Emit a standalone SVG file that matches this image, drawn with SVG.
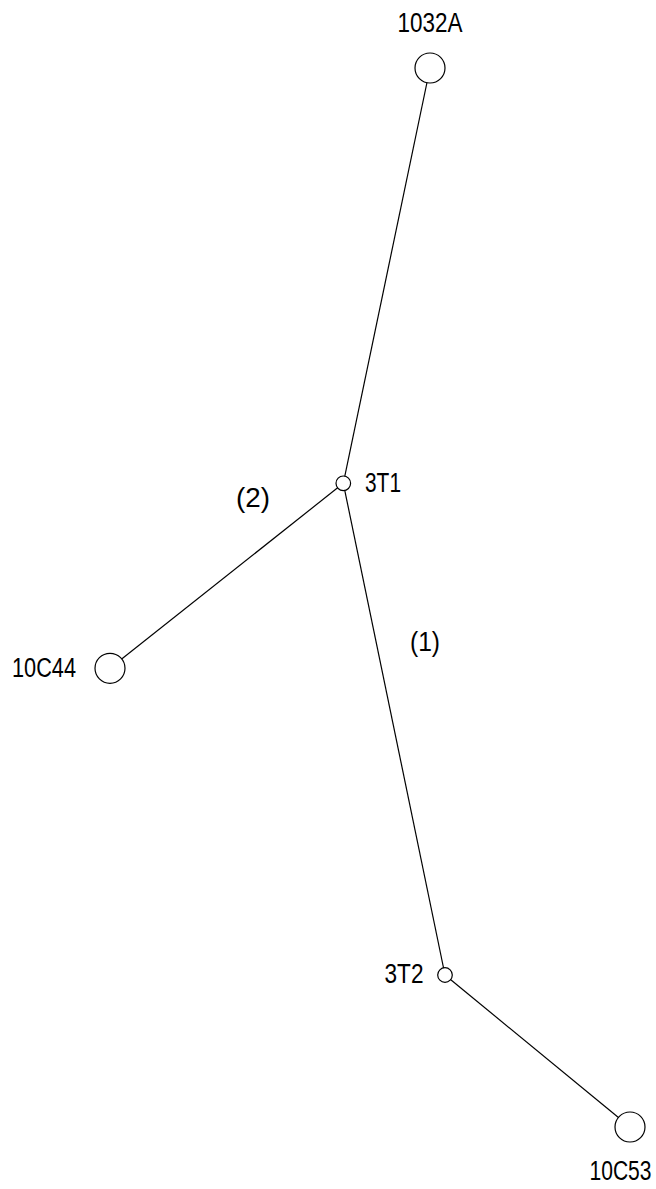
<svg xmlns="http://www.w3.org/2000/svg" width="656" height="1189" viewBox="0 0 656 1189">
<style>
.edge{stroke:#000;stroke-width:1.2;fill:none}
.node{fill:#fff;stroke:#000;stroke-width:1.2}
.lbl{font-family:"Liberation Sans",Arial,sans-serif;font-size:27px;fill:#000}
</style>
<rect width="656" height="1189" fill="#fff"/>
<g id="connectors">
<line class="edge" x1="430" y1="68" x2="343.3" y2="483.3"/>
<line class="edge" x1="343.3" y1="483.3" x2="110" y2="668.3"/>
<line class="edge" x1="343.3" y1="483.3" x2="445" y2="975"/>
<line class="edge" x1="445" y1="975" x2="630" y2="1127"/>
<text class="lbl" x="236" y="507" textLength="34" lengthAdjust="spacingAndGlyphs">(2)</text>
<text class="lbl" x="410" y="651" textLength="30" lengthAdjust="spacingAndGlyphs">(1)</text>
</g>
<g id="n1032A">
<circle class="node" cx="430" cy="68" r="15"/>
<text class="lbl" x="397.5" y="31.7" textLength="65" lengthAdjust="spacingAndGlyphs">1032A</text>
</g>
<g id="n3T1">
<circle class="node" cx="343.3" cy="483.3" r="7.3"/>
<text class="lbl" x="365" y="492" textLength="36" lengthAdjust="spacingAndGlyphs">3T1</text>
</g>
<g id="n10C44">
<circle class="node" cx="110" cy="668.3" r="15"/>
<text class="lbl" x="12" y="677" textLength="64" lengthAdjust="spacingAndGlyphs">10C44</text>
</g>
<g id="n3T2">
<circle class="node" cx="445" cy="975" r="7.3"/>
<text class="lbl" x="384.5" y="983" textLength="39" lengthAdjust="spacingAndGlyphs">3T2</text>
</g>
<g id="n10C53">
<circle class="node" cx="630" cy="1127" r="15"/>
<text class="lbl" x="589.5" y="1180" textLength="62" lengthAdjust="spacingAndGlyphs">10C53</text>
</g>
</svg>
